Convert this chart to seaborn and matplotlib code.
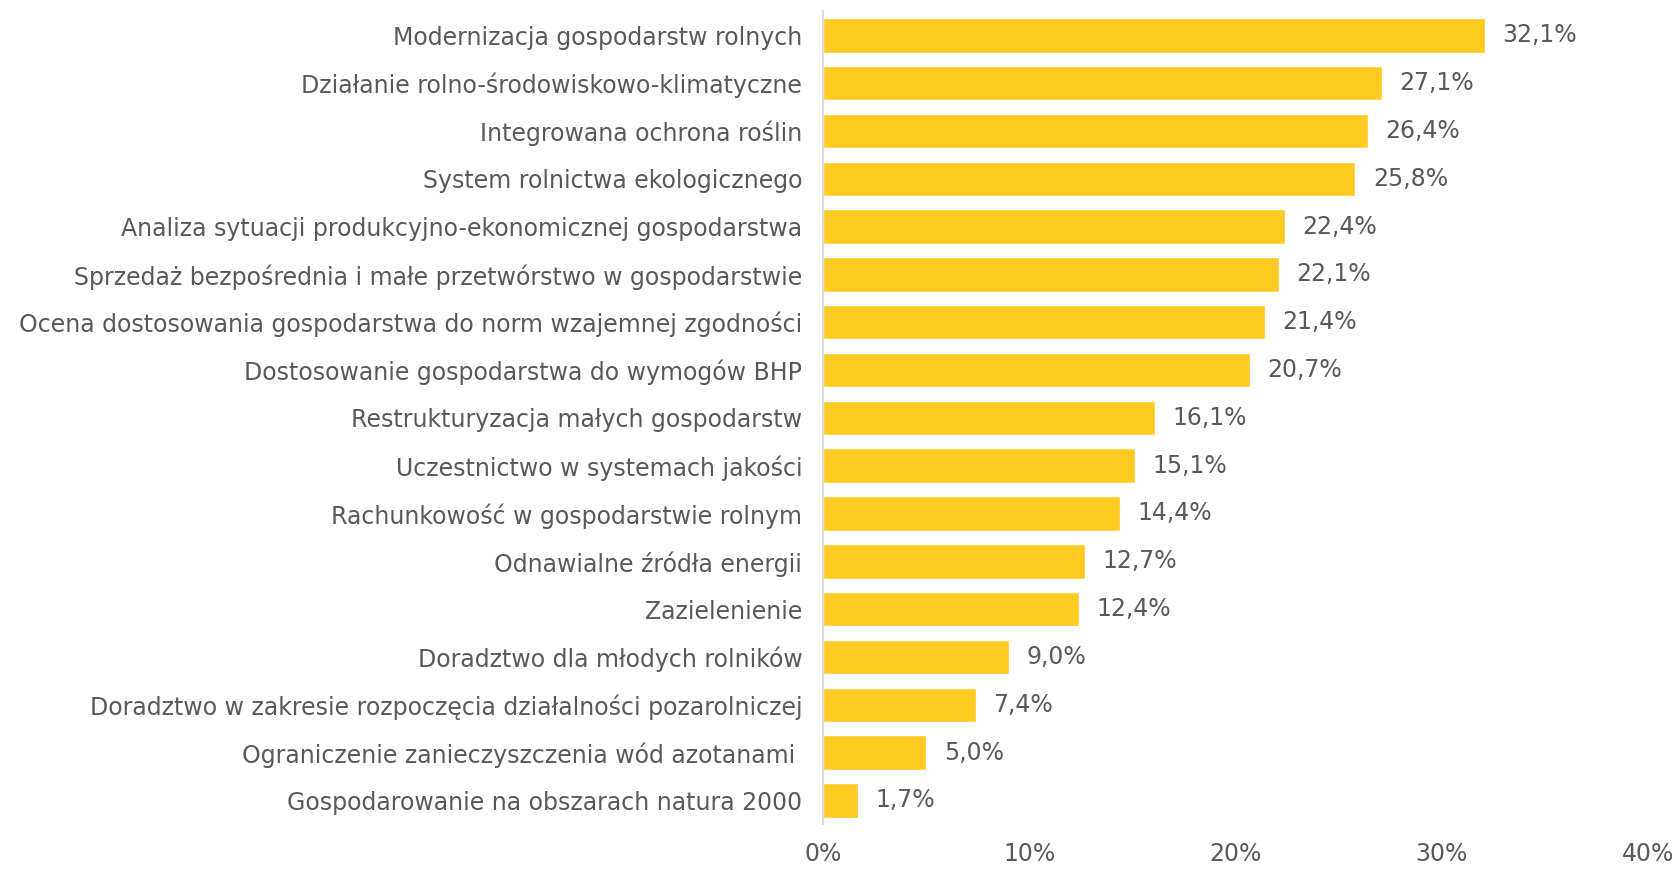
import matplotlib
matplotlib.use("Agg")
import matplotlib.pyplot as plt
import seaborn as sns
import pandas as pd

categories = [
    "Modernizacja gospodarstw rolnych",
    "Działanie rolno-środowiskowo-klimatyczne",
    "Integrowana ochrona roślin",
    "System rolnictwa ekologicznego",
    "Analiza sytuacji produkcyjno-ekonomicznej gospodarstwa",
    "Sprzedaż bezpośrednia i małe przetwórstwo w gospodarstwie",
    "Ocena dostosowania gospodarstwa do norm wzajemnej zgodności",
    "Dostosowanie gospodarstwa do wymogów BHP",
    "Restrukturyzacja małych gospodarstw",
    "Uczestnictwo w systemach jakości",
    "Rachunkowość w gospodarstwie rolnym",
    "Odnawialne źródła energii",
    "Zazielenienie",
    "Doradztwo dla młodych rolników",
    "Doradztwo w zakresie rozpoczęcia działalności pozarolniczej",
    "Ograniczenie zanieczyszczenia wód azotanami ",
    "Gospodarowanie na obszarach natura 2000",
]
values = [32.1, 27.1, 26.4, 25.8, 22.4, 22.1, 21.4, 20.7, 16.1, 15.1, 14.4, 12.7, 12.4, 9.0, 7.4, 5.0, 1.7]
x_ticks = [0, 10, 20, 30, 40]
x_tick_labels = ["0%", "10%", "20%", "30%", "40%"]

df = pd.DataFrame({"cat": categories, "val": values})

sns.set_style("white")
plt.rcParams["font.family"] = ["DejaVu Sans"]
text_color = "#595959"
bar_color = "#FFCA22"
fs = 17

fig = plt.figure(figsize=(16.8, 8.69), dpi=100)
ax = fig.add_axes([0.49, 0.0515, 0.981 - 0.49, 0.9868 - 0.0515])
sns.barplot(data=df, x="val", y="cat", color=bar_color, width=0.72, ax=ax, saturation=1)

ax.set_xlim(0, 40)
ax.set_xticks(x_ticks)
ax.set_xticklabels(x_tick_labels, fontsize=17, color=text_color)
ax.tick_params(axis="x", length=0, pad=13)
ax.set_xlabel("")
ax.set_ylabel("")

n = len(categories)
ax.set_yticks(range(n))
ax.set_yticklabels(categories, fontsize=fs, color=text_color)
ax.tick_params(axis="y", length=0, pad=15)
ax.set_yticks([i - 0.5 for i in range(n + 1)], minor=True)
ax.tick_params(axis="y", which="minor", length=5, width=1.3, color="#d9d9d9", direction="out")
ax.set_ylim(n - 0.5, -0.5)

for s in ["top", "right", "bottom"]:
    ax.spines[s].set_visible(False)
ax.spines["left"].set_color("#d9d9d9")
ax.spines["left"].set_linewidth(1.3)

for i, v in enumerate(values):
    ax.text(v + 0.85, i, f"{v:.1f}%".replace(".", ","), va="center", ha="left",
            fontsize=fs, color=text_color)

fig.savefig("out.png", dpi=100, facecolor="white")
